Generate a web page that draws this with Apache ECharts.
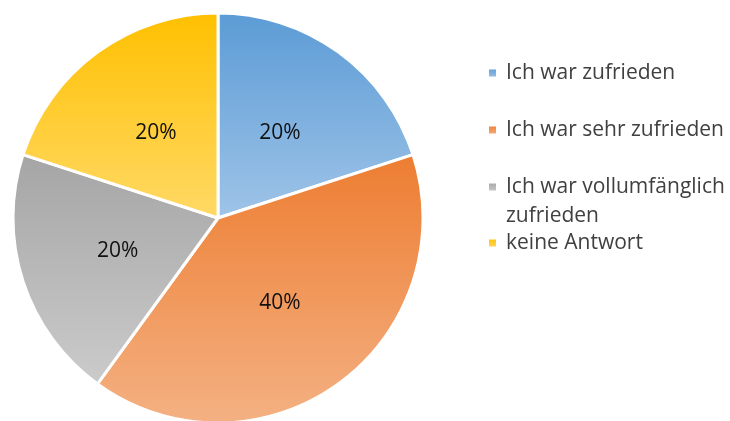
<!DOCTYPE html>
<html>
<head>
<meta charset="utf-8">
<script src="https://cdn.jsdelivr.net/npm/echarts@6/dist/echarts.min.js"></script>
<style>
  html, body { margin: 0; padding: 0; background: #fff; }
  #chart { width: 730px; height: 421px; }
</style>
</head>
<body>
<div id="chart"></div>
<script>
// answer categories and shares in percent
const categories = ['Ich war zufrieden', 'Ich war sehr zufrieden', 'Ich war vollumfänglich zufrieden', 'keine Antwort']
const legendTexts = ['Ich war zufrieden', 'Ich war sehr zufrieden', 'Ich war vollumfänglich\nzufrieden', 'keine Antwort']
const shares = [20, 40, 20, 20]
// gradient top / bottom colours per slice
const topColors = ['#5b9bd5', '#ed7d31', '#a5a5a5', '#ffc000']
const bottomColors = ['#9fc4e8', '#f4b183', '#cbcbcb', '#ffd966']
const legendCenters = [73, 130, 187, 243]

const font = '"Open Sans", sans-serif'

function grad (i) {
  return new echarts.graphic.LinearGradient(0, 0, 0, 1, [
    { offset: 0, color: topColors[i] },
    { offset: 1, color: bottomColors[i] }
  ])
}

let legends = categories.map((name, i) => {
  let twoLines = legendTexts[i].indexOf('\n') >= 0
  return {
    orient: 'vertical',
    left: 487,
    top: legendCenters[i] - (twoLines ? 43.5 : 14.5),
    padding: 0,
    itemWidth: 9,
    itemHeight: 9,
    itemGap: 0,
    icon: 'rect',
    selectedMode: false,
    // blank first line keeps the marker on the first text line
    formatter: () => (twoLines ? ' \n' : '') + legendTexts[i],
    data: [{
      name: name,
      itemStyle: { color: grad(i) }
    }],
    textStyle: {
      color: '#404040',
      fontFamily: font,
      fontSize: 21,
      lineHeight: 29,
      padding: [0, 0, 0, 4]
    }
  }
})

let options = {
  animation: false,
  legend: legends,
  series: [{
    type: 'pie',
    center: [218, 218],
    radius: 205,
    startAngle: 90,
    clockwise: true,
    itemStyle: {
      borderColor: '#fff',
      borderWidth: 3
    },
    label: {
      position: 'inside',
      formatter: '{c}%',
      color: '#111',
      fontFamily: font,
      fontSize: 21
    },
    labelLine: { show: false },
    emphasis: { disabled: true },
    data: categories.map((name, i) => ({
      name: name,
      value: shares[i],
      itemStyle: { color: grad(i) }
    }))
  }]
}

let myChart = echarts.init(document.getElementById('chart'))
myChart.setOption(options)
</script>
</body>
</html>
